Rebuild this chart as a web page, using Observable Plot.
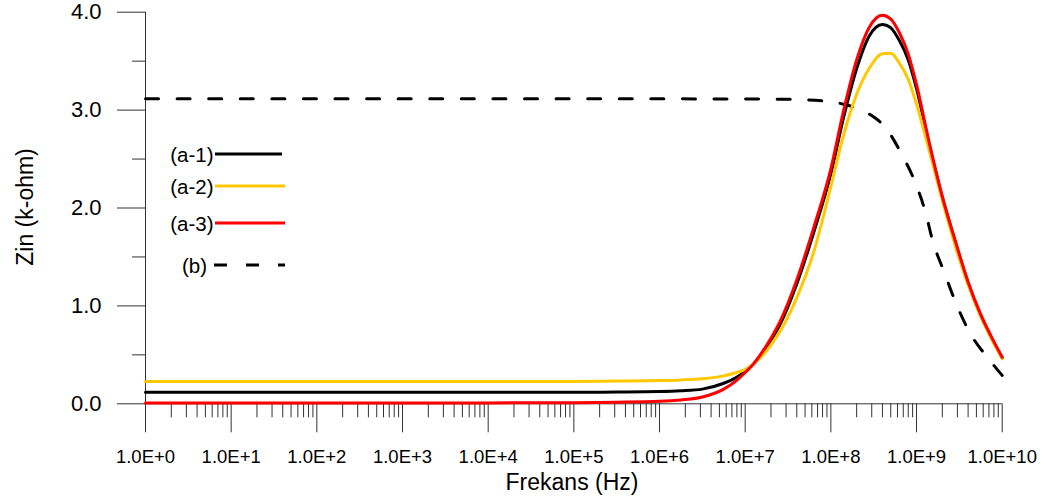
<!DOCTYPE html>
<html><head><meta charset="utf-8">
<script src="https://cdn.jsdelivr.net/npm/d3@7"></script>
<script src="https://cdn.jsdelivr.net/npm/@observablehq/plot@0.6"></script>
<style>
html,body{margin:0;padding:0;background:#fff;}
#chart{position:relative;width:1046px;height:503px;}
</style></head><body><div id="chart"></div>
<script>
// ---- data ----
const seriesNames = ["(a-1)", "(a-2)", "(a-3)", "(b)"];
const seriesColors = ["#000000", "#FFC800", "#FF0000", "#000000"];

// log10 of frequency (Hz) for the solid curves
const solidExp = [0, 1, 2, 3, 4, 5, 5.5, 6, 6.25, 6.5, 6.75, 6.9, 7.0, 7.1, 7.2, 7.3, 7.4, 7.6, 7.8, 8.0, 8.15, 8.3, 8.45, 8.6, 8.7, 8.8, 8.9, 9.0, 9.15, 9.3, 9.45, 9.6, 9.75, 9.9, 10];
// Zin (k-ohm)
const zinA1 = [0.118, 0.118, 0.118, 0.118, 0.118, 0.118, 0.120, 0.125, 0.133, 0.15, 0.21, 0.27, 0.33, 0.41, 0.52, 0.65, 0.80, 1.22, 1.75, 2.35, 2.93, 3.42, 3.76, 3.875, 3.84, 3.71, 3.52, 3.22, 2.64, 2.11, 1.66, 1.24, 0.90, 0.63, 0.47];
const zinA2 = [0.228, 0.228, 0.228, 0.228, 0.228, 0.229, 0.232, 0.237, 0.243, 0.255, 0.285, 0.32, 0.35, 0.41, 0.49, 0.60, 0.73, 1.08, 1.55, 2.22, 2.75, 3.16, 3.43, 3.575, 3.58, 3.48, 3.32, 3.06, 2.58, 2.08, 1.62, 1.22, 0.89, 0.62, 0.46];
const zinA3 = [0.008, 0.008, 0.008, 0.008, 0.009, 0.012, 0.016, 0.025, 0.04, 0.07, 0.15, 0.24, 0.32, 0.41, 0.53, 0.67, 0.83, 1.26, 1.80, 2.40, 3.00, 3.51, 3.85, 3.97, 3.93, 3.79, 3.58, 3.26, 2.66, 2.12, 1.67, 1.25, 0.91, 0.64, 0.476];

// dashed curve (b)
const dashExp = [0, 1, 2, 3, 4, 5, 6, 7, 7.5, 7.96, 8.15, 8.33, 8.5, 8.63, 8.82, 8.98, 9.1, 9.19, 9.33, 9.45, 9.62, 9.84, 10];
const zinB = [3.115, 3.115, 3.115, 3.115, 3.115, 3.115, 3.115, 3.113, 3.11, 3.09, 3.06, 3.01, 2.93, 2.83, 2.56, 2.27, 1.97, 1.66, 1.33, 1.05, 0.73, 0.46, 0.29];

// axes
const xMajorExp = [0, 1, 2, 3, 4, 5, 6, 7, 8, 9, 10];
const yMajor = [0, 1, 2, 3, 4];
const yMinor = [0.5, 1.5, 2.5, 3.5];
const xTitle = "Frekans (Hz)";
const yTitle = "Zin (k-ohm)";

// ---- build table ----
const rows = [];
[zinA1, zinA2, zinA3].forEach((arr, s) => {
  solidExp.forEach((e, i) => rows.push({series: seriesNames[s], f: 10 ** e, z: arr[i]}));
});
const dashRows = dashExp.map((e, i) => ({series: "(b)", f: 10 ** e, z: zinB[i]}));

const xMajor = xMajorExp.map(e => 10 ** e);
const xMinor = [];
for (let e = 0; e < 10; e++) for (let m = 2; m <= 9; m++) xMinor.push(m * 10 ** e);

const FONT = "'Liberation Sans', Arial, sans-serif";
const AX = "#333";

const W = 1046, H = 503;
const chart = Plot.plot({
  width: W,
  height: H,
  marginLeft: 145,
  marginRight: 44.3,
  marginTop: 11.7,
  marginBottom: 99.7,
  style: {fontFamily: FONT, background: "#fff", color: "#000", overflow: "visible"},
  x: {type: "log", domain: [1, 1e10]},
  y: {domain: [0, 4]},
  marks: [
    Plot.ruleX([1], {y1: 0, y2: 4, stroke: AX, strokeWidth: 1}),
    Plot.ruleY([0], {x1: 1, x2: 1e10, stroke: AX, strokeWidth: 1}),
    Plot.axisX(xMajor, {anchor: "bottom", tickSize: 29, tickPadding: 17, stroke: AX, fill: "#000", fontSize: 18.5,
      tickFormat: d => "1.0E+" + Math.round(Math.log10(d)), label: null}),
    Plot.axisX(xMinor, {anchor: "bottom", tickSize: 14, stroke: AX, text: null, label: null}),
    Plot.axisY(yMajor, {anchor: "left", tickSize: 28, tickPadding: 16, stroke: AX, fill: "#000", fontSize: 22,
      tickFormat: d3.format(".1f"), label: null}),
    Plot.axisY(yMinor, {anchor: "left", tickSize: 13, stroke: AX, text: null, label: null}),
    Plot.line(dashRows, {x: "f", y: "z", stroke: seriesColors[3], strokeWidth: 3, curve: "monotone-x", className: "dashed-b"}),
    Plot.line(rows.filter(d => d.series === "(a-1)"), {x: "f", y: "z", stroke: seriesColors[0], strokeWidth: 3, curve: "monotone-x"}),
    Plot.line(rows.filter(d => d.series === "(a-2)"), {x: "f", y: "z", stroke: seriesColors[1], strokeWidth: 3, curve: "monotone-x"}),
    Plot.line(rows.filter(d => d.series === "(a-3)"), {x: "f", y: "z", stroke: seriesColors[2], strokeWidth: 3, curve: "monotone-x"})
  ]
});

document.getElementById("chart").appendChild(chart);

// fit dash pattern so the line starts and ends on a dash
const DASH = 13, PERIOD = 32;
d3.select(chart).selectAll(".dashed-b path").each(function() {
  const L = this.getTotalLength();
  const n = Math.max(1, Math.round((L - DASH) / PERIOD));
  const p = (L - DASH) / n;
  this.setAttribute("stroke-dasharray", DASH + "," + (p - DASH));
});

// axis titles and legend
const svg = d3.select(chart);
svg.append("text").attr("x", 572).attr("y", 490).attr("text-anchor", "middle")
  .attr("font-size", 23).attr("font-family", FONT).attr("fill", "#000").text(xTitle);
svg.append("text").attr("transform", "translate(33,207) rotate(-90)").attr("text-anchor", "middle")
  .attr("font-size", 23).attr("font-family", FONT).attr("fill", "#000").text(yTitle);

const legendY = [154, 186, 223, 265];
const legend = svg.append("g");
seriesNames.forEach((name, i) => {
  const dashed = i === 3;
  const y = legendY[i];
  legend.append("text").attr("x", dashed ? 207 : 213.5).attr("y", y + 7.5).attr("text-anchor", "end")
    .attr("font-size", 20.5).attr("font-family", FONT).attr("fill", "#000").text(name);
  legend.append("line").attr("x1", dashed ? 214 : 215).attr("x2", i === 0 ? 282 : 285).attr("y1", y).attr("y2", y)
    .attr("stroke", seriesColors[i]).attr("stroke-width", 3)
    .attr("stroke-dasharray", dashed ? "13,19" : null);
});
</script>
</body></html>
